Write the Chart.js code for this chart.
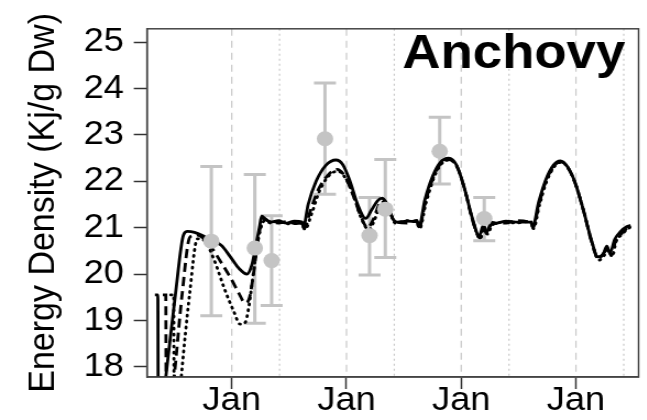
<!DOCTYPE html>
<html>
<head>
<meta charset="utf-8">
<script src="https://cdn.jsdelivr.net/npm/chart.js@4.4.1/dist/chart.umd.min.js"></script>
<style>
  html, body { margin: 0; padding: 0; background: #fff; }
  /* the original figure is a bit wider than tall in its glyphs, so stretch */
  #wrap { width: 588px; height: 420px; transform: scaleX(1.1); transform-origin: 0 0; }
</style>
</head>
<body>
<div id="wrap"><canvas id="chart" width="588" height="420"></canvas></div>
<script>
// months since the first January on the axis
const janMonths = [0, 12, 24, 36];
const midMonths = [5, 17, 29, 41];
const yTicks = [18, 19, 20, 21, 22, 23, 24, 25];

// model run 1 (solid)
const solidX = [-8.04, -7.73, -7.69, -7.32, -6.90, -5.90, -5.04, -4.62, -3.90, -3.07, -2.14, -1.11, -0.07, 0.76, 1.58, 2.10, 2.51, 2.93, 3.13, 3.55, 4.07, 4.89, 5.72, 6.55, 7.38, 7.48, 7.99, 8.82, 9.86, 10.89, 11.62, 12.34, 13.17, 14.00, 14.62, 15.24, 15.75, 16.27, 16.89, 17.31, 18.34, 19.37, 19.58, 20.20, 21.03, 21.86, 22.69, 23.51, 24.34, 25.17, 25.89, 26.31, 26.62, 27.14, 27.65, 28.69, 29.72, 31.27, 31.48, 32.10, 32.82, 33.65, 34.37, 35.10, 35.92, 36.75, 37.58, 38.30, 38.82, 39.24, 39.55, 40.06, 40.68, 41.30, 41.71];
const solidY = [19.55, 19.55, 17.0, 17.0, 17.78, 19.55, 20.85, 20.92, 20.9, 20.83, 20.72, 20.62, 20.35, 20.12, 20.0, 20.2, 20.6, 21.05, 21.25, 21.18, 21.12, 21.15, 21.1, 21.14, 21.12, 21.0, 21.5, 22.0, 22.35, 22.46, 22.36, 22.02, 21.5, 21.2, 21.38, 21.58, 21.64, 21.5, 21.18, 21.12, 21.14, 21.13, 21.02, 21.6, 22.12, 22.42, 22.5, 22.35, 21.85, 21.2, 20.82, 21.05, 20.88, 21.12, 21.1, 21.14, 21.12, 21.12, 21.02, 21.55, 22.02, 22.35, 22.44, 22.32, 21.97, 21.4, 20.76, 20.37, 20.42, 20.6, 20.45, 20.75, 20.92, 21.02, 21.05];

// model run 2 (dashed)
const dashX = [-7.21, -6.90, -6.86, -6.50, -6.03, -5.20, -4.37, -3.59, -2.87, -2.14, -1.11, -0.07, 0.76, 1.38, 1.79, 2.20, 2.62, 3.03, 3.34, 3.86, 4.89, 5.72, 6.55, 7.38, 7.58, 8.2, 9.0, 10.0, 11.0, 11.8, 12.6, 13.4, 14.2, 14.8, 15.4, 15.85, 16.4, 17.0, 18.34, 19.37, 19.6, 20.25, 21.1, 21.9, 22.7, 23.55, 24.4, 25.2, 25.95, 26.35, 26.7, 27.2, 28.7, 29.72, 31.27, 31.5, 32.15, 32.85, 33.7, 34.4, 35.15, 35.95, 36.8, 37.6, 38.35, 38.9, 39.3, 39.7, 40.15, 40.8, 41.4, 41.8];
const dashY = [19.55, 19.55, 17.0, 17.0, 17.78, 19.55, 20.8, 20.84, 20.75, 20.58, 20.25, 19.9, 19.58, 19.38, 19.45, 19.9, 20.55, 21.05, 21.2, 21.14, 21.1, 21.13, 21.09, 21.1, 20.98, 21.35, 21.8, 22.12, 22.26, 22.12, 21.75, 21.3, 21.0, 21.18, 21.5, 21.6, 21.42, 21.14, 21.1, 21.16, 21.0, 21.55, 22.1, 22.4, 22.47, 22.32, 21.8, 21.15, 20.78, 21.0, 20.9, 21.08, 21.1, 21.15, 21.1, 21.0, 21.52, 22.0, 22.33, 22.42, 22.3, 21.94, 21.36, 20.72, 20.33, 20.45, 20.55, 20.4, 20.72, 20.88, 21.0, 21.04];

// model run 3 (dotted)
const dotX = [-6.38, -6.07, -6.03, -5.60, -5.28, -4.42, -3.59, -2.87, -1.83, -0.80, 0.24, 0.86, 1.38, 1.79, 2.31, 2.82, 3.44, 4.07, 4.89, 5.72, 6.55, 7.38, 7.65, 8.35, 9.15, 10.15, 11.1, 11.95, 12.75, 13.55, 14.35, 14.9, 15.5, 15.95, 16.5, 17.1, 18.34, 19.37, 19.65, 20.3, 21.15, 21.95, 22.75, 23.6, 24.45, 25.25, 26.0, 26.4, 26.75, 27.25, 28.7, 29.72, 31.27, 31.55, 32.2, 32.9, 33.75, 34.45, 35.2, 36.0, 36.85, 37.65, 38.4, 38.95, 39.35, 39.8, 40.2, 40.85, 41.45, 41.85];
const dotY = [19.55, 19.55, 17.0, 17.0, 17.78, 19.55, 20.76, 20.72, 20.3, 19.7, 19.18, 18.92, 18.95, 19.3, 20.1, 20.8, 21.15, 21.1, 21.14, 21.08, 21.12, 21.08, 20.96, 21.3, 21.78, 22.12, 22.22, 22.05, 21.68, 21.2, 20.95, 21.15, 21.48, 21.56, 21.38, 21.1, 21.15, 21.1, 20.98, 21.52, 22.08, 22.38, 22.46, 22.3, 21.76, 21.12, 20.76, 21.02, 20.86, 21.06, 21.12, 21.1, 21.14, 20.98, 21.5, 21.98, 22.32, 22.41, 22.28, 21.92, 21.33, 20.7, 20.3, 20.4, 20.52, 20.38, 20.7, 20.86, 20.98, 21.03];

// observations with error bars
const obsX = [-2.14, 2.41, 4.17, 9.75, 14.41, 16.06, 21.75, 26.41];
const obsY = [20.71, 20.56, 20.29, 22.92, 20.83, 21.40, 22.65, 21.20];
const obsLow = [19.10, 18.94, 19.32, 21.72, 19.98, 20.36, 21.94, 20.72];
const obsHigh = [22.32, 22.15, 21.26, 24.12, 21.65, 22.47, 23.38, 21.65];

const pts = (xs, ys) => xs.map((x, i) => ({ x: x, y: ys[i] }));

const grey = '#c4c4c4';

const extras = {
    id: 'extras',
    beforeDatasetsDraw(chart) {
        const { ctx, chartArea: a, scales: { x, y } } = chart;
        ctx.save();
        ctx.lineWidth = 1.2;
        ctx.strokeStyle = '#c8c8c8';
        const vline = (m, dash) => {
            const px = x.getPixelForValue(m);
            ctx.setLineDash(dash);
            ctx.beginPath();
            ctx.moveTo(px, a.top);
            ctx.lineTo(px, a.bottom);
            ctx.stroke();
        };
        janMonths.forEach(m => vline(m, [7, 5]));
        midMonths.forEach(m => vline(m, [2, 3]));

        // error bars
        ctx.setLineDash([]);
        ctx.strokeStyle = grey;
        ctx.lineWidth = 3;
        obsX.forEach((m, i) => {
            const px = x.getPixelForValue(m);
            const lo = y.getPixelForValue(obsLow[i]);
            const hi = y.getPixelForValue(obsHigh[i]);
            ctx.beginPath();
            ctx.moveTo(px, lo); ctx.lineTo(px, hi);
            ctx.moveTo(px - 10, lo); ctx.lineTo(px + 10, lo);
            ctx.moveTo(px - 10, hi); ctx.lineTo(px + 10, hi);
            ctx.stroke();
        });
        ctx.restore();
    },
    afterDraw(chart) {
        const { ctx, chartArea: a } = chart;
        ctx.save();
        ctx.strokeStyle = '#444';
        ctx.lineWidth = 1.5;
        ctx.strokeRect(a.left, a.top, a.right - a.left, a.bottom - a.top);
        ctx.fillStyle = '#000';
        ctx.font = 'bold 48px "Liberation Sans", Arial, sans-serif';
        ctx.textAlign = 'right';
        ctx.textBaseline = 'alphabetic';
        ctx.fillText('Anchovy', a.right - 12, 68);
        ctx.restore();
    }
};

const lineStyle = (data, dash, cap) => ({
    type: 'line',
    data: data,
    borderColor: '#000',
    borderWidth: 2.8,
    borderDash: dash,
    borderCapStyle: cap,
    pointRadius: 0,
    fill: false,
    cubicInterpolationMode: 'monotone'
});

new Chart(document.getElementById('chart'), {
    type: 'line',
    data: {
        datasets: [
            {
                type: 'scatter',
                data: pts(obsX, obsY),
                pointRadius: 7.5,
                pointBackgroundColor: grey,
                pointBorderWidth: 0,
                showLine: false
            },
            lineStyle(pts(solidX, solidY), [], 'butt'),
            lineStyle(pts(dashX, dashY), [9, 5], 'butt'),
            lineStyle(pts(dotX, dotY), [1, 5], 'round')
        ]
    },
    options: {
        responsive: false,
        devicePixelRatio: 1,
        animation: false,
        layout: { padding: { top: 27, right: 2.5, left: 0, bottom: 0 } },
        plugins: { legend: { display: false }, tooltip: { enabled: false } },
        scales: {
            x: {
                type: 'linear',
                min: -8.87,
                max: 42.55,
                afterBuildTicks: axis => { axis.ticks = janMonths.map(v => ({ value: v })); },
                afterFit: s => { s.height = 43; },
                grid: { drawOnChartArea: false, tickLength: 12, tickColor: '#333', tickWidth: 1.5 },
                border: { color: '#444', width: 1.5 },
                ticks: {
                    callback: () => 'Jan',
                    color: '#000',
                    maxRotation: 0,
                    autoSkip: false,
                    padding: -8,
                    font: { family: 'Liberation Sans', size: 33 }
                }
            },
            y: {
                min: 17.78,
                max: 25.29,
                afterBuildTicks: axis => { axis.ticks = yTicks.map(v => ({ value: v })); },
                afterFit: s => { s.width = 133.6; },
                grid: { drawOnChartArea: false, tickLength: 12, tickColor: '#333', tickWidth: 1.5 },
                border: { color: '#444', width: 1.5 },
                ticks: {
                    color: '#000',
                    padding: 9,
                    font: { family: 'Liberation Sans', size: 33 }
                },
                title: {
                    display: true,
                    text: 'Energy Density (Kj/g Dw)',
                    color: '#000',
                    padding: { top: 19, bottom: 0 },
                    font: { family: 'Liberation Sans', size: 34 }
                }
            }
        }
    },
    plugins: [extras]
});
</script>
</body>
</html>
